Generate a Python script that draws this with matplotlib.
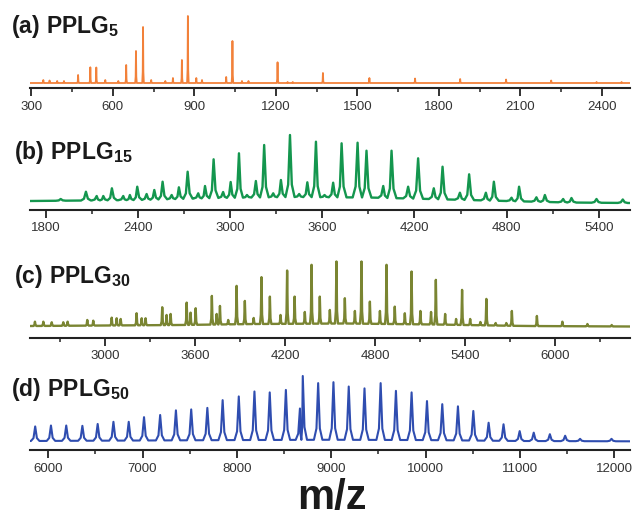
import numpy as np
import matplotlib
matplotlib.use("Agg")
import matplotlib.pyplot as plt
from matplotlib.ticker import MultipleLocator

plt.rcParams['font.family'] = ['Liberation Sans', 'DejaVu Sans']
plt.rcParams['mathtext.fontset'] = 'custom'
plt.rcParams['mathtext.rm'] = 'Liberation Sans'
plt.rcParams['mathtext.bf'] = 'Liberation Sans:bold'

# (a) PPLG5 peaks: m/z, intensity (a.u.)
a_mz = [344, 367, 395, 420, 472, 517, 539, 572, 620, 649, 685, 711, 741, 793, 821,
        854, 876, 907, 928, 1017, 1040, 1075, 1099, 1206, 1243, 1262, 1373, 1544,
        1712, 1878, 2047, 2213, 2380, 2472]
a_int = [3, 2.5, 2, 2, 8, 15.7, 15.5, 3, 2, 18, 32, 56, 3, 2, 5,
         23, 67, 5, 3, 6, 42, 2, 2, 20.7, 1, 1, 10, 5,
         4.5, 4, 3.5, 2.5, 1, 1]
a_base_mz = [295, 2500]
a_base = [0, 0]

# (b) PPLG15
b_mz = [1898, 2062, 2132, 2175, 2231, 2305, 2348, 2396, 2457, 2507, 2561, 2620, 2667,
        2724, 2793, 2837, 2893, 2955, 3004, 3058, 3110, 3168, 3222, 3281, 3331, 3390,
        3450, 3503, 3559, 3615, 3671, 3726, 3830, 3888, 3997, 4051, 4159, 4224, 4326,
        4383, 4496, 4556, 4665, 4717, 4832, 4881, 4994, 5049, 5168, 5222, 5385, 5556]
b_int = [2, 9.3, 5, 5, 12.7, 5, 6, 14.3, 7, 11, 19.3, 6, 13.7,
         29.3, 7.7, 15, 41.7, 9, 19, 47.7, 6, 20, 56, 7.7, 21, 66,
         7, 18.7, 59.3, 6, 18.3, 57.7, 58.3, 50.3, 15, 50.3, 14.3, 42.7, 12.7,
         34.3, 8.3, 26.7, 8.3, 19.3, 3.3, 14.3, 3.7, 6, 2, 3, 2, 1.5]
b_base_mz = [1700, 2400, 2900, 3400, 3900, 4300, 4800, 5200, 5600]
b_base = [0, 1, 3, 4, 3.5, 2, 0, -1.5, -2]

# (c) PPLG30
c_mz = [2531, 2587, 2643, 2720, 2749, 2880, 2920, 3043, 3076, 3103, 3209, 3243, 3269,
        3380, 3409, 3436, 3543, 3569, 3603, 3711, 3743, 3765, 3820, 3876, 3931, 3990,
        4042, 4098, 4169, 4213, 4263, 4331, 4376, 4431, 4498, 4542, 4598, 4665, 4709,
        4765, 4832, 4876, 4931, 4998, 5043, 5102, 5173, 5205, 5267, 5340, 5380, 5434,
        5502, 5542, 5604, 5675, 5712, 5879, 6049, 6216, 6378]
c_int = [4.3, 4.3, 3.7, 3.7, 4.3, 6, 5.3, 8.3, 7.7, 7, 12.7, 7.7, 7.7,
         18.7, 11, 12, 23.3, 13.3, 17.7, 30, 12, 20, 6, 40, 25, 8,
         48.7, 29.3, 11, 55.3, 29.3, 14, 61, 29.3, 16, 64.3, 27.7, 15, 64.3,
         24.3, 15, 61, 19.3, 12.7, 54.3, 15, 14, 46, 12, 7, 36, 7,
         4, 27, 3, 3, 15, 10, 4.3, 2, 1]
c_base_mz = [2500, 3500, 4000, 4600, 5200, 5800, 6500]
c_base = [0, 1, 2, 2.5, 1.5, 0, -0.5]

# (d) PPLG50
d_mz = [5863, 6030, 6192, 6363, 6525, 6692, 6854, 7016, 7187, 7354, 7516, 7687, 7849,
        8020, 8186, 8348, 8519, 8668, 8698, 8861, 9023, 9185, 9352, 9523, 9685, 9851,
        10014, 10176, 10342, 10505, 10667, 10825, 10996, 11145, 11316, 11478, 11636, 11969]
d_int = [47, 50, 50, 49, 55, 62, 62, 77, 84, 99, 102, 107, 132,
         144, 160, 157, 165, 105, 210, 187, 190, 176, 170, 187, 162, 157,
         129, 119, 112, 97, 59, 54, 32, 27, 22, 17, 7, 7]
d_base_mz = [5800, 8000, 9000, 10000, 11000, 12160]
d_base = [0, 3, 4, 3, 0, -1]

W, H = 633, 519
fig = plt.figure(figsize=(W / 100, H / 100), dpi=100)


def profile(mz, inten, hw, base_mz, base, lo, hi):
    # line vertices for each peak: base - shoulder - apex - shoulder - base
    xs, ys = [lo], [np.interp(lo, base_mz, base)]
    for i, (p, h) in enumerate(zip(mz, inten)):
        l = hw if i == 0 else min(hw, (p - mz[i - 1]) / 2)
        r = hw if i == len(mz) - 1 else min(hw, (mz[i + 1] - p) / 2)
        bl = np.interp(p - l, base_mz, base)
        br = np.interp(p + r, base_mz, base)
        xs += [p - l, p - 0.4 * l, p, p + 0.4 * r, p + r]
        ys += [bl, bl + 0.2 * (h - bl), h, br + 0.2 * (h - br), br]
    xs.append(hi)
    ys.append(np.interp(hi, base_mz, base))
    return xs, ys


panels = [
    dict(label=r'$\mathbf{(a)\ PPLG_{5}}$', mz=a_mz, it=a_int, bmz=a_base_mz, b=a_base,
         xlim=(295, 2503), major=300, minor=150, hw=3, color='#F2813A', lw=1.3,
         axis=88, basepx=83, toppx=16, tx=11, ty=33),
    dict(label=r'$\mathbf{(b)\ PPLG_{15}}$', mz=b_mz, it=b_int, bmz=b_base_mz, b=b_base,
         xlim=(1698, 5603), major=600, minor=300, hw=32, color='#14964E', lw=1.7,
         axis=209.5, basepx=201, toppx=135, tx=14, ty=159),
    dict(label=r'$\mathbf{(c)\ PPLG_{30}}$', mz=c_mz, it=c_int, bmz=c_base_mz, b=c_base,
         xlim=(2498, 6500), major=600, minor=300, hw=10, color='#7A8532', lw=1.7,
         axis=337.5, basepx=326, toppx=261.5, tx=14, ty=283),
    dict(label=r'$\mathbf{(d)\ PPLG_{50}}$', mz=d_mz, it=d_int, bmz=d_base_mz, b=d_base,
         xlim=(5808, 12165), major=1000, minor=500, hw=45, color='#2F4DB0', lw=1.5,
         axis=450, basepx=441, toppx=376, tx=11, ty=396),
]

for p in panels:
    top_ax = p['toppx'] - 8
    ax = fig.add_axes([30 / W, 1 - p['axis'] / H, 600 / W, (p['axis'] - top_ax) / H])
    k = max(p['it']) / (p['basepx'] - p['toppx'])
    xs, ys = profile(p['mz'], p['it'], p['hw'], p['bmz'], p['b'], *p['xlim'])
    ax.plot(xs, ys, color=p['color'], lw=p['lw'], solid_joinstyle='round')
    ax.set_xlim(*p['xlim'])
    ax.set_ylim(-(p['axis'] - p['basepx']) * k, (p['basepx'] - top_ax) * k)
    for s in ['top', 'left', 'right']:
        ax.spines[s].set_visible(False)
    ax.spines['bottom'].set_linewidth(1.5)
    ax.spines['bottom'].set_color('#222222')
    ax.set_yticks([])
    ax.xaxis.set_major_locator(MultipleLocator(p['major']))
    ax.xaxis.set_minor_locator(MultipleLocator(p['minor']))
    ax.tick_params(axis='x', which='major', direction='out', length=6, width=1.3,
                   color='#222222', labelsize=9.5, labelcolor='#333333', pad=3)
    ax.tick_params(axis='x', which='minor', direction='out', length=3, width=1.1,
                   color='#222222')
    ax.patch.set_visible(False)
    fig.text(p['tx'] / W, 1 - p['ty'] / H, p['label'], fontsize=16.5, color='#1a1a1a',
             ha='left', va='baseline')

fig.text(332 / W, 1 - 509 / H, 'm/z', fontsize=30, fontweight='bold', color='#1a1a1a',
         ha='center', va='baseline')

fig.savefig('out.png', dpi=100)
